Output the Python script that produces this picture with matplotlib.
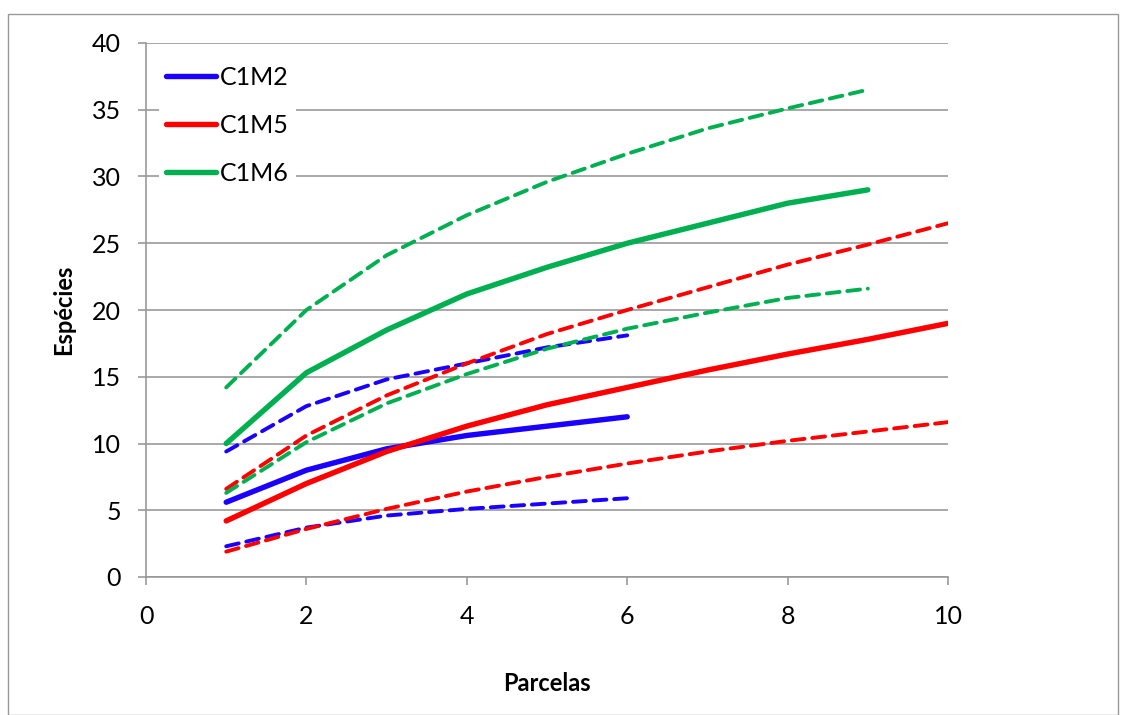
import numpy as np
import matplotlib.pyplot as plt
from matplotlib.patches import Rectangle

plt.rcParams['font.family'] = ['Lato', 'DejaVu Sans']

x6 = [1, 2, 3, 4, 5, 6]
x9 = [1, 2, 3, 4, 5, 6, 7, 8, 9]
x10 = [1, 2, 3, 4, 5, 6, 7, 8, 9, 10]

c1m2 = [5.6, 8.0, 9.6, 10.6, 11.3, 12.0]
c1m2_hi = [9.4, 12.8, 14.8, 16.0, 17.2, 18.1]
c1m2_lo = [2.3, 3.7, 4.6, 5.1, 5.5, 5.9]

c1m5 = [4.2, 7.0, 9.4, 11.3, 12.9, 14.2, 15.5, 16.7, 17.8, 19.0]
c1m5_hi = [6.6, 10.6, 13.6, 16.0, 18.2, 20.0, 21.7, 23.4, 24.9, 26.5]
c1m5_lo = [1.9, 3.6, 5.1, 6.4, 7.5, 8.5, 9.4, 10.2, 10.9, 11.6]

c1m6 = [10.0, 15.3, 18.5, 21.2, 23.2, 25.0, 26.5, 28.0, 29.0]
c1m6_hi = [14.2, 20.0, 24.1, 27.1, 29.6, 31.7, 33.6, 35.1, 36.5]
c1m6_lo = [6.3, 10.1, 13.0, 15.2, 17.1, 18.6, 19.8, 20.9, 21.6]

blue = "#1A00FF"
red = "#FF0000"
green = "#00B050"

fig = plt.figure(figsize=(11.26, 7.15), dpi=100)
ax = fig.add_axes([146 / 1126, 1 - 577 / 715, (948 - 146) / 1126, (577 - 43) / 715])

dash = dict(lw=2.8, linestyle=(0, (3.3, 2.0)), dash_capstyle="round", solid_capstyle="round")
solid = dict(lw=3.9, solid_capstyle="round")

ax.plot(x6, c1m2_hi, color=blue, **dash)
ax.plot(x6, c1m2_lo, color=blue, **dash)
ax.plot(x10, c1m5_hi, color=red, **dash)
ax.plot(x10, c1m5_lo, color=red, **dash)
ax.plot(x9, c1m6_hi, color=green, **dash)
ax.plot(x9, c1m6_lo, color=green, **dash)

ax.plot(x6, c1m2, color=blue, label="C1M2", **solid)
ax.plot(x10, c1m5, color=red, label="C1M5", **solid)
ax.plot(x9, c1m6, color=green, label="C1M6", **solid)

ax.set_xlim(0, 10)
ax.set_ylim(0, 40)
ax.set_xticks(range(0, 11, 2))
ax.set_yticks(range(0, 41, 5))
ax.yaxis.grid(True, color="#999999", lw=1.2)
ax.set_axisbelow(True)
for s in ["top", "right"]:
    ax.spines[s].set_visible(False)
for s in ["left", "bottom"]:
    ax.spines[s].set_color("#999999")
    ax.spines[s].set_linewidth(1.2)
ax.tick_params(axis="both", colors="#999999", width=1.2, length=6, labelsize=18, labelcolor="black")
ax.tick_params(axis="x", pad=14)
ax.tick_params(axis="y", pad=12)

ax.set_xlabel("Parcelas", fontsize=17, fontweight="bold", labelpad=32)
ax.set_ylabel("Espécies", fontsize=17, fontweight="bold", labelpad=12)

leg = ax.legend(loc="upper left", bbox_to_anchor=(0.0, 0.995), frameon=True, fontsize=18,
                handlelength=2.0, handletextpad=0.15, labelspacing=1.0, borderpad=0.3)
leg.get_frame().set_edgecolor("none")
leg.get_frame().set_facecolor("white")
leg.get_frame().set_alpha(1)

fig.patches.append(Rectangle((8 / 1126, 0), 1 - 16 / 1126, 1 - 14 / 715, transform=fig.transFigure,
                             fill=False, edgecolor="#999999", lw=1))

plt.savefig("out.png", dpi=100)
